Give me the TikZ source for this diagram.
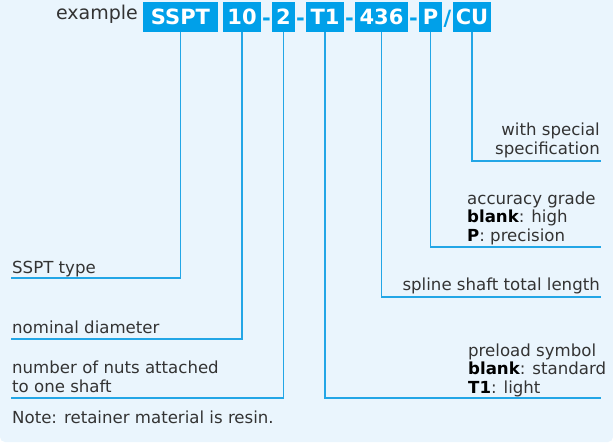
\documentclass[tikz,border=0pt]{standalone}
\usepackage{fontspec}
\setmainfont{DejaVu Sans}
\usetikzlibrary{positioning}
\definecolor{colorbg}{HTML}{EAF5FD}
\definecolor{colorcode}{HTML}{00A0E9}
\definecolor{colorline}{HTML}{23A6E6}
\definecolor{colortext}{HTML}{333333}
\newcommand{\codekey}[1]{{\bfseries\color{black}#1}}

\begin{document}
\begin{tikzpicture}[
    x=1pt, y=-1pt,
    % blue boxes of the part number
    codebox/.style={
        fill=colorcode,
        text=white,
        inner sep=0pt,
        minimum height=30pt,
        font=\fontsize{21}{21}\selectfont\bfseries
    },
    % blue hyphens and slash between the boxes
    dashsym/.style={
        text=colorcode,
        inner sep=0pt,
        anchor=base,
        font=\fontsize{21}{21}\selectfont\bfseries
    },
    % explanation texts (base anchor = last line)
    desc/.style={
        inner sep=0pt,
        text=colortext,
        align=left,
        font=\fontsize{16.6}{18.5}\selectfont
    },
    % thin blue leader lines
    leader/.style={
        draw=colorline,
        line width=1.2pt
    }
]

% ==============================
% Background
% ==============================
\useasboundingbox (0,0) rectangle (613,442);
\fill[colorbg, rounded corners=5pt] (0,-10) rectangle (613,442);

% ==============================
% Part number
% ==============================
\node[anchor=base east, inner sep=0pt, text=colortext,
      font=\fontsize{19}{19}\selectfont] (example) at (138,19) {example};

\node[codebox, minimum width=75pt] (sspt) at (180.5,17) {SSPT};
\node[codebox, minimum width=38pt] (dia) at (242,17) {10};
\node[dashsym] (dasha) at (266.5,25) {-};
\node[codebox, minimum width=23pt] (nuts) at (283.5,17) {2};
\node[dashsym] (dashb) at (300.5,25) {-};
\node[codebox, minimum width=38pt] (preload) at (325,17) {T1};
\node[dashsym] (dashc) at (349.5,25) {-};
\node[codebox, minimum width=53pt] (length) at (381.5,17) {436};
\node[dashsym] (dashd) at (413.5,25) {-};
\node[codebox, minimum width=23pt] (grade) at (430.5,17) {P};
\node[dashsym] (slash) at (447.5,25) {/};
\node[codebox, minimum width=38pt] (special) at (472,17) {CU};

% ==============================
% Explanations
% ==============================
\node[desc, anchor=base west] (typetxt) at (12,273) {SSPT type};
\node[desc, anchor=base west] (diatxt) at (12,333) {nominal diameter};
\node[desc, anchor=base west] (nutstxt) at (12,392) {number of nuts attached\\to one shaft};
\node[desc, anchor=base west] (notetxt) at (12,423) {Note: retainer material is resin.};

\node[desc, anchor=base east, align=right] (specialtxt) at (600,154) {with special\\specification};
\node[desc, anchor=base west] (gradetxt) at (467,241) {accuracy grade\\\codekey{blank}: high\\\codekey{P}: precision};
\node[desc, anchor=base east] (lengthtxt) at (600,290) {spline shaft total length};
\node[desc, anchor=base west] (preloadtxt) at (468,393) {preload symbol\\\codekey{blank}: standard\\\codekey{T1}: light};

% ==============================
% Leader lines
% ==============================
\coordinate (typeend) at (11,278);
\coordinate (diaend) at (11,339);
\coordinate (nutsend) at (11,398);
\coordinate (preloadend) at (601,398);
\coordinate (lengthend) at (601,297);
\coordinate (gradeend) at (601,247);
\coordinate (specialend) at (601,161);

\draw[leader] (sspt.south) |- (typeend);
\draw[leader] (dia.south) |- (diaend);
\draw[leader] (nuts.south) |- (nutsend);
\draw[leader] (preload.south) |- (preloadend);
\draw[leader] (length.south) |- (lengthend);
\draw[leader] (grade.south) |- (gradeend);
\draw[leader] (special.south) |- (specialend);

\end{tikzpicture}
\end{document}
